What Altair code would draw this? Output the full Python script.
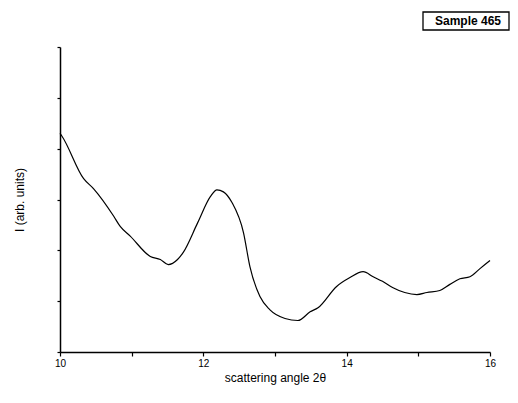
import altair as alt
import pandas as pd

angle = [10.0, 10.03, 10.33, 10.47, 10.75, 10.84, 10.98, 11.26, 11.40, 11.51, 11.64, 11.72,
         11.92, 12.10, 12.19, 12.28, 12.40, 12.56, 12.65, 12.79, 12.93, 13.14, 13.32,
         13.49, 13.60, 13.86, 14.04, 14.23, 14.37, 14.50, 14.64, 14.81, 14.98, 15.12,
         15.30, 15.44, 15.58, 15.72, 15.86, 16.0]
intensity = [4.30, 4.24, 3.41, 3.21, 2.67, 2.47, 2.28, 1.88, 1.82, 1.72, 1.82, 1.96,
             2.54, 3.06, 3.19, 3.15, 2.94, 2.35, 1.68, 1.09, 0.83, 0.66, 0.62,
             0.79, 0.87, 1.29, 1.46, 1.58, 1.48, 1.39, 1.27, 1.17, 1.13, 1.17,
             1.21, 1.33, 1.44, 1.48, 1.64, 1.80]
x_ticks = [10, 11, 12, 13, 14, 15, 16]
y_ticks = [0, 1, 2, 3, 4, 5, 6]
sample_label = "Sample 465"

df = pd.DataFrame({"angle": angle, "I": intensity})
font = "Liberation Sans"

line = alt.Chart(df).mark_line(color="black", strokeWidth=1.2, interpolate="monotone").encode(
    x=alt.X("angle:Q", scale=alt.Scale(domain=[10, 16], nice=False, zero=False),
            axis=alt.Axis(values=x_ticks, title="scattering angle 2θ",
                          labelExpr="datum.value % 2 == 0 ? datum.label : ''",
                          labelFlush=False, labelOverlap=False,
                          grid=False, domainColor="black", domainWidth=1.5,
                          tickColor="black", tickSize=4, tickWidth=1.2,
                          labelFont=font, labelFontSize=10, labelColor="black",
                          labelPadding=2,
                          titleFont=font, titleFontSize=12, titleFontWeight="normal",
                          titleColor="black", titlePadding=4)),
    y=alt.Y("I:Q", scale=alt.Scale(domain=[0, 6], nice=False),
            axis=alt.Axis(values=y_ticks, title="I (arb. units)", labels=False,
                          grid=False, domainColor="black", domainWidth=1.5,
                          tickColor="black", tickSize=3, tickWidth=1.2,
                          titleFont=font, titleFontSize=12, titleFontWeight="normal",
                          titleColor="black", titlePadding=30)),
)

box = alt.Chart(pd.DataFrame({"t": [sample_label]})).mark_rect(
    fill="white", stroke="black", strokeWidth=1.3
).encode(x=alt.value(363), x2=alt.value(449), y=alt.value(-35), y2=alt.value(-17))

label = alt.Chart(pd.DataFrame({"t": [sample_label]})).mark_text(
    font=font, fontSize=12, fontWeight="bold", color="black", align="center", baseline="middle"
).encode(text="t:N", x=alt.value(408), y=alt.value(-26))

chart = alt.layer(line, box, label).properties(
    width=430, height=305,
    autosize=alt.AutoSizeParams(type="none"),
    padding={"left": 52, "top": 39, "right": 20, "bottom": 42},
    background="white",
).configure_view(stroke=None)

chart.save("out.html", embed_options={"renderer": "svg", "actions": False})
